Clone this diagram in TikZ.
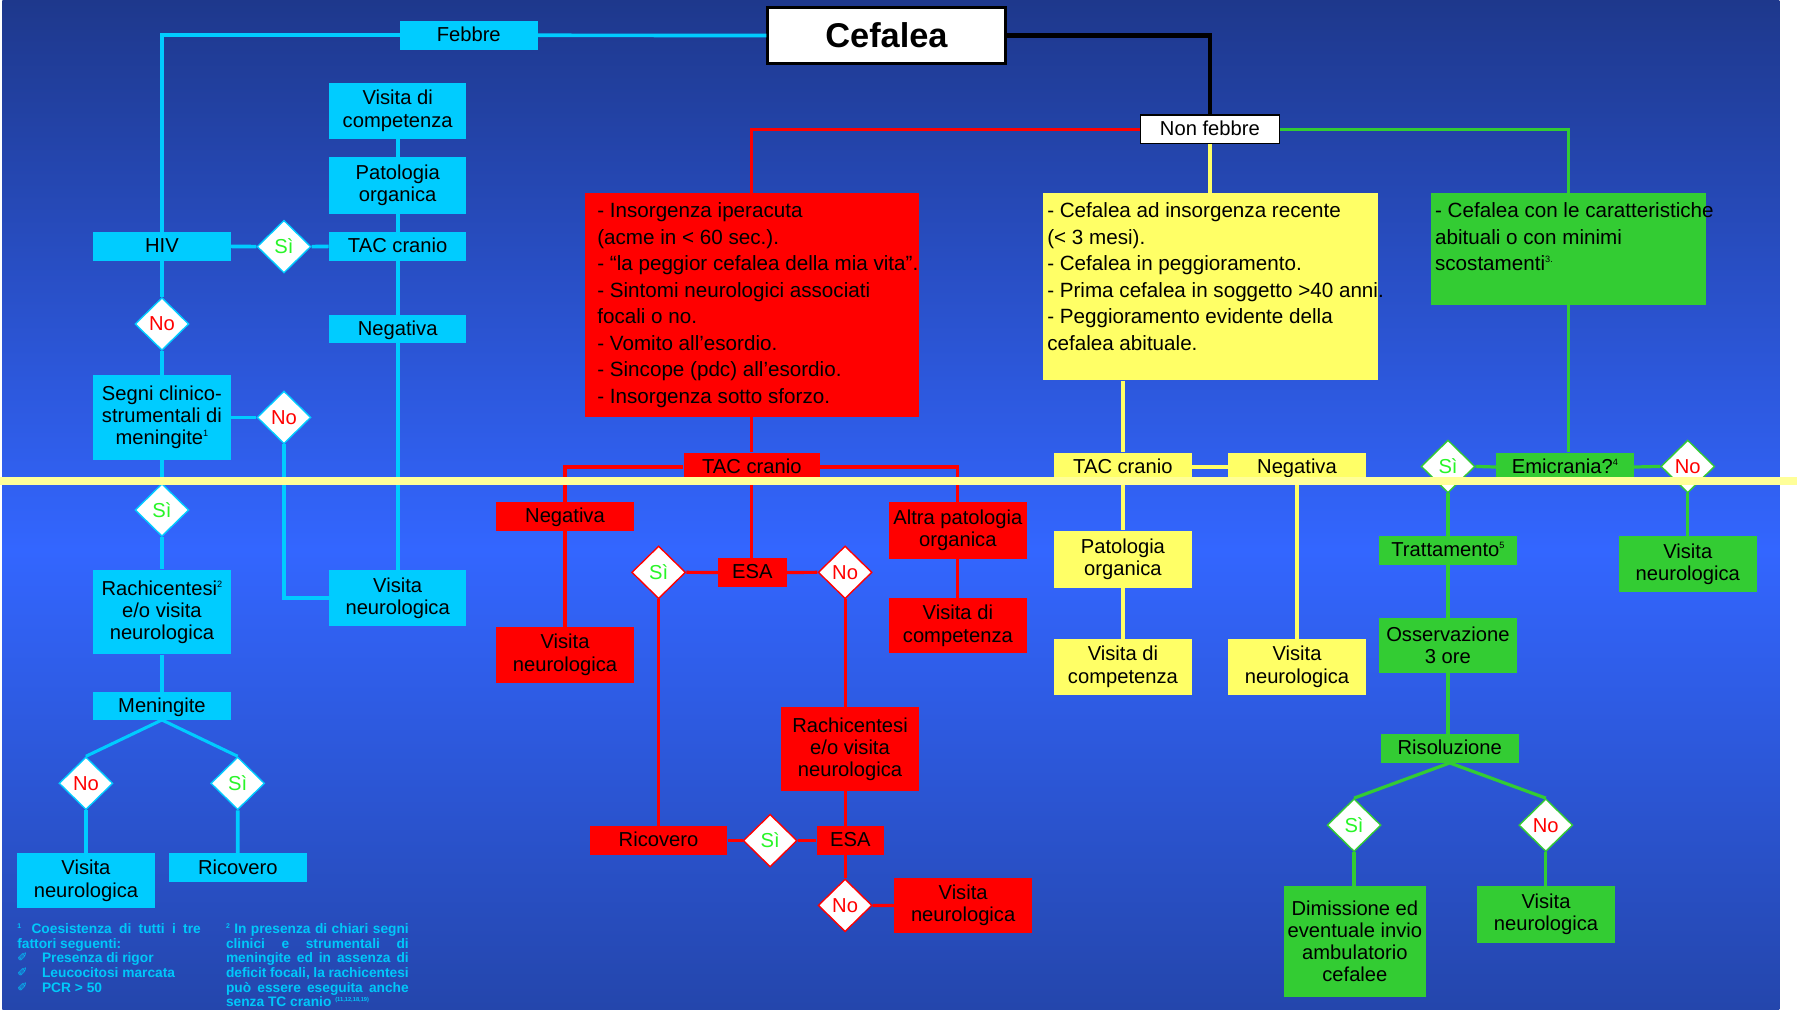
\documentclass[tikz,border=0pt]{standalone}
\usepackage{fontspec}
\setmainfont{Liberation Sans}
\newfontfamily\symf{DejaVu Sans}
\usetikzlibrary{shapes.geometric}
\definecolor{cyanc}{RGB}{0,204,255}
\definecolor{redc}{RGB}{255,0,0}
\definecolor{yelc}{RGB}{255,255,102}
\definecolor{grnc}{RGB}{51,204,51}
\definecolor{sigreen}{RGB}{40,245,40}
\definecolor{bgtop}{RGB}{30,56,140}
\definecolor{bgmid}{RGB}{51,102,255}
\definecolor{bgbot}{RGB}{36,70,172}
\definecolor{sepc}{RGB}{255,255,153}
\definecolor{fnc}{RGB}{0,200,250}
\newcommand\supx[1]{\raisebox{7pt}{\fontsize{8}{8}\selectfont #1}}
\newcommand\fsup[1]{\raisebox{4.5pt}{\fontsize{6}{6}\selectfont #1}}
\newcommand\fsupp[1]{\raisebox{4.5pt}{\fontsize{5}{5}\selectfont #1}}
\newcommand\pen{\makebox[21.5pt][l]{\raisebox{-1pt}{\rotatebox{45}{\symf\fontsize{11}{11}\selectfont ✏}}}}
\begin{document}
\begin{tikzpicture}[x=1pt,y=-1pt,
  bx/.style={rectangle, inner sep=0pt, align=center, text=black, font=\fontsize{17.6}{19.3}\selectfont},
  one/.style={text height=11pt, text depth=0pt},
  sz/.style 2 args={minimum width=#1pt, minimum height=#2pt},
  cy/.style={bx, fill=cyanc},
  rd/.style={bx, fill=redc},
  yl/.style={bx, fill=yelc},
  gr/.style={bx, fill=grnc},
  dm/.style={diamond, fill=white, line width=1.2pt, inner sep=0pt, minimum width=47pt, minimum height=46pt, font=\fontsize{17.6}{19}\selectfont},
  si/.style={dm, text=sigreen},
  nn/.style={dm, text=redc},
  tx/.style={anchor=base west, inner sep=0pt, text=black, font=\fontsize{18}{23.1}\selectfont},
  fnote/.style={anchor=base west, inner sep=0pt, text=fnc, font=\fontsize{12}{12.8}\selectfont\bfseries},
  lc/.style={draw=cyanc, line width=3.2pt},
  lr/.style={draw=redc, line width=2.8pt},
  ly/.style={draw=yelc, line width=3pt},
  lg/.style={draw=grnc, line width=2.8pt},
  lk/.style={draw=black, line width=3.6pt}]
\useasboundingbox (0,0) rectangle (1568,881);
% background
\fill[white] (0,0) rectangle (1568,881);
\shade[top color=bgtop, bottom color=bgmid] (2,0) rectangle (1552.5,480);
\shade[top color=bgmid, bottom color=bgbot] (2,479.5) rectangle (1552.5,881);

% top nodes
\node[bx, sz={207}{49}, fill=white, draw=black, line width=2.6pt, font=\fontsize{30}{32}\selectfont\bfseries] (cef) at (773.5,31) {Cefalea};
\node[bx, one, sz={121}{25}, fill=white, draw=black, line width=1.2pt] (nonf) at (1055.7,112.7) {Non febbre};

% cyan branch
\node[cy, one, sz={120}{25}] (febbre) at (409,30.8) {Febbre};
\node[cy, sz={120}{48.6}] (cvdc) at (347,96.7) {Visita di\\competenza};
\node[cy, sz={120}{49.5}] (cpat) at (347,161.7) {Patologia\\organica};
\node[cy, one, sz={120}{25}] (hiv) at (141.3,215) {HIV};
\node[cy, one, sz={120}{25}] (ctac) at (347,215) {TAC cranio};
\node[cy, one, sz={120}{24}] (cneg) at (347,287) {Negativa};
\node[cy, sz={120}{74}] (segni) at (141.3,364.2) {Segni clinico-\\strumentali di\\meningite\supx{1}};
\node[cy, sz={120}{74}] (crach) at (141.3,534) {Rachicentesi\supx{2}\\e/o visita\\neurologica};
\node[cy, one, sz={120}{24}] (mening) at (141.3,616) {Meningite};
\node[cy, sz={120}{48}] (cvn1) at (75,768.5) {Visita\\neurologica};
\node[cy, one, sz={120}{25.4}] (cric) at (207.5,757.3) {Ricovero};
\node[cy, sz={120}{49}] (cvn2) at (347,522) {Visita\\neurologica};
\node[si, draw=cyanc] (cd1) at (247.8,215.2) {Sì};
\node[nn, draw=cyanc] (cd2) at (141.3,282.7) {No};
\node[nn, draw=cyanc] (cd3) at (247.8,364.2) {No};
\node[si, draw=cyanc] (cd4) at (141.3,445) {Sì};
\node[nn, draw=cyanc] (cd5) at (75,683.5) {No};
\node[si, draw=cyanc] (cd6) at (207.4,683.5) {Sì};

% red branch
\node[rd, sz={291}{195}] (redbox) at (656,266.2) {};
\node[tx] (redtxt) at (521,190) {\parbox[t]{400pt}{\fontsize{18}{23.1}\selectfont
- Insorgenza iperacuta\\
(acme in < 60 sec.).\\
- “la peggior cefalea della mia vita”.\\
- Sintomi neurologici associati\\
focali o no.\\
- Vomito all’esordio.\\
- Sincope (pdc) all’esordio.\\
- Insorgenza sotto sforzo.}};
\node[rd, one, sz={119}{25}] (rtac) at (656,407.5) {TAC cranio};
\node[rd, one, sz={120}{25}] (rneg) at (493,450.5) {Negativa};
\node[rd, sz={120}{48.7}] (rvn1) at (493,571.3) {Visita\\neurologica};
\node[rd, one, sz={60}{25}] (resa) at (656.5,499.5) {ESA};
\node[rd, sz={120}{49.5}] (raltra) at (835.8,462.8) {Altra patologia\\organica};
\node[rd, sz={120}{48}] (rvdc) at (835.8,546) {Visita di\\competenza};
\node[rd, sz={120}{73}] (rrach) at (741.7,653.6) {Rachicentesi\\e/o visita\\neurologica};
\node[rd, one, sz={120}{25}] (rric) at (574.6,733.5) {Ricovero};
\node[rd, one, sz={59}{25}] (resa2) at (742,733.5) {ESA};
\node[rd, sz={120}{48.5}] (rvn2) at (840.4,790.2) {Visita\\neurologica};
\node[si, draw=redc] (rd1) at (574.7,499.4) {Sì};
\node[nn, draw=redc] (rd2) at (737.4,499.4) {No};
\node[si, draw=redc] (rd3) at (672,733.5) {Sì};
\node[nn, draw=redc] (rd4) at (737.4,790) {No};

% yellow branch
\node[yl, sz={292}{163.5}] (ybox) at (1056,250.2) {};
\node[tx] (ytxt) at (913.6,190) {\parbox[t]{400pt}{\fontsize{18}{23.1}\selectfont
- Cefalea ad insorgenza recente\\
(< 3 mesi).\\
- Cefalea in peggioramento.\\
- Prima cefalea in soggetto >40 anni.\\
- Peggioramento evidente della\\
cefalea abituale.}};
\node[yl, one, sz={120}{25}] (ytac) at (979.8,407.5) {TAC cranio};
\node[yl, one, sz={120}{25}] (yneg) at (1131.7,407.5) {Negativa};
\node[yl, sz={120}{49.8}] (ypat) at (979.8,487.9) {Patologia\\organica};
\node[yl, sz={120}{48.4}] (yvdc) at (979.8,581.8) {Visita di\\competenza};
\node[yl, sz={120}{48.4}] (yvn) at (1131.7,581.8) {Visita\\neurologica};

% green branch
\node[gr, sz={240}{97.5}] (gbox) at (1368.5,217.2) {};
\node[tx] (gtxt) at (1252,190) {\parbox[t]{400pt}{\fontsize{18}{23.1}\selectfont
- Cefalea con le caratteristiche\\
abituali o con minimi\\
scostamenti\supx{3.}}};
\node[gr, one, sz={120}{25}] (emic) at (1365.5,407.5) {Emicrania?\supx{4}};
\node[si, draw=grnc] (gsi) at (1263.5,407) {Sì};
\node[nn, draw=grnc] (gno) at (1472.7,407) {No};
\node[gr, sz={120}{49}] (gvnr) at (1472.7,492.2) {Visita\\neurologica};
\node[gr, one, sz={120}{25}] (gtrat) at (1263.4,480.3) {Trattamento\supx{5}};
\node[gr, sz={120}{48}] (goss) at (1263.4,563.3) {Osservazione\\3 ore};
\node[gr, one, sz={120}{25}] (gris) at (1265,653) {Risoluzione};
\node[si, draw=grnc] (gsi2) at (1181.5,720) {Sì};
\node[nn, draw=grnc] (gno2) at (1348.8,720) {No};
\node[gr, sz={123.6}{97}] (gdim) at (1182.2,821.5) {Dimissione ed\\eventuale invio\\ambulatorio\\cefalee};
\node[gr, sz={120}{49.6}] (gvn2) at (1349,797.8) {Visita\\neurologica};

% connectors: black
\draw[lk] (cef.east) -| (nonf.north);
% cyan
\draw[lc] (febbre.east) -- (cef.west);
\draw[lc] (febbre.west) -| (hiv.north);
\draw[lc] (hiv.east) -- (cd1.west);
\draw[lc] (cd1.east) -- (ctac.west);
\draw[lc] (ctac.north) -- (cpat.south);
\draw[lc] (cpat.north) -- (cvdc.south);
\draw[lc] (ctac.south) -- (cneg.north);
\draw[lc] (cneg.south) -- (cvn2.north);
\draw[lc] (hiv.south) -- (cd2.north);
\draw[lc] (cd2.south) -- (segni.north);
\draw[lc] (segni.east) -- (cd3.west);
\draw[lc] (cd3.south) |- (cvn2.west);
\draw[lc] (segni.south) -- (cd4.north);
\draw[lc] (cd4.south) -- (crach.north);
\draw[lc] (crach.south) -- (mening.north);
\draw[lc, line width=2.7pt] (mening.south) -- (cd5.north);
\draw[lc, line width=2.7pt] (mening.south) -- (cd6.north);
\draw[lc] (cd5.south) -- (cvn1.north);
\draw[lc] (cd6.south) -- (cric.north);
% red
\draw[lr] (nonf.west) -| (redbox.north);
\draw[lr] (redbox.south) -- (redbox.south |- rtac.north);
\draw[lr] (rtac.west) -| (rneg.north);
\draw[lr] (rtac.east) -| (raltra.north);
\draw[lr] (rtac.south) -- (rtac.south |- resa.north);
\draw[lr] (rneg.south) -- (rvn1.north);
\draw[lr] (raltra.south) -- (rvdc.north);
\draw[lr] (resa.west) -- (rd1.east);
\draw[lr] (resa.east) -- (rd2.west);
\draw[lr] (rd1.south) -- (rd1.south |- rric.north);
\draw[lr] (rd2.south) -- (rd2.south |- rrach.north);
\draw[lr] (rd2.south |- rrach.south) -- (rd2.south |- resa2.north);
\draw[lr] (rric.east) -- (rd3.west);
\draw[lr] (rd3.east) -- (resa2.west);
\draw[lr] (rd2.south |- resa2.south) -- (rd4.north);
\draw[lr] (rd4.east) -- (rvn2.west);
% yellow
\draw[ly] (nonf.south) -- (nonf.south |- ybox.north);
\draw[ly] (ytac.north |- ybox.south) -- (ytac.north);
\draw[ly] (ytac.east) -- (yneg.west);
\draw[ly] (ytac.south) -- (ypat.north);
\draw[ly] (ypat.south) -- (yvdc.north);
\draw[ly] (yneg.south) -- (yvn.north);
% green
\draw[lg] (nonf.east) -| (gbox.north);
\draw[lg] (gbox.south) -- (gbox.south |- emic.north);
\draw[lg] (emic.west) -- (gsi.east);
\draw[lg] (emic.east) -- (gno.west);
\draw[lg] (gsi.south) -- (gsi.south |- gtrat.north);
\draw[lg] (gno.south) -- (gno.south |- gvnr.north);
\draw[lg] (gtrat.south) -- (goss.north);
\draw[lg] (goss.south) -- (goss.south |- gris.north);
\draw[lg] (gris.south) -- (gsi2.north);
\draw[lg] (gris.south) -- (gno2.north);
\draw[lg] (gsi2.south) -- (gsi2.south |- gdim.north);
\draw[lg] (gno2.south) -- (gno2.south |- gvn2.north);

% separator line
\fill[sepc] (0,416.5) rectangle (1568,423.5);

% footnotes
\node[fnote] (fn1) at (15,814.5) {\parbox[t]{160pt}{\fontsize{12}{12.8}\selectfont\bfseries
\fsup{1}\hspace{9pt}Coesistenza di tutti i tre\linebreak fattori seguenti:\\
\pen Presenza di rigor\\
\pen Leucocitosi marcata\\
\pen PCR > 50}};
\node[fnote] (fn2) at (197,814.5) {\parbox[t]{159.5pt}{\fontsize{12}{12.8}\selectfont\bfseries
\fsup{2} In presenza di chiari segni\linebreak clinici e strumentali di\linebreak meningite ed in assenza di\linebreak deficit focali, la rachicentesi\linebreak può essere eseguita anche\linebreak senza TC cranio \fsupp{(11,12,18,19)}}};
\end{tikzpicture}
\end{document}
